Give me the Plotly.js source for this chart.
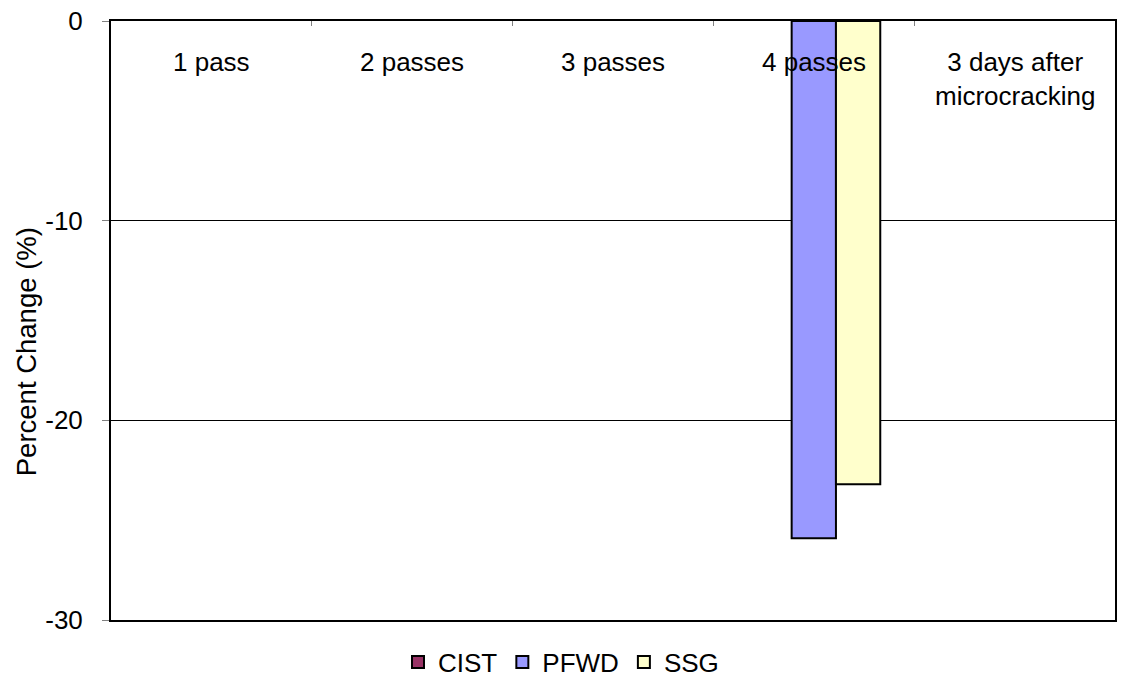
<!DOCTYPE html>
<html>
<head>
<meta charset="utf-8">
<script src="https://cdn.plot.ly/plotly-3.0.1.min.js"></script>
<style>
  html, body { margin: 0; padding: 0; background: #ffffff; }
  #chart { width: 1122px; height: 679px; }
</style>
</head>
<body>
<div id="chart"></div>
<script>
// Stages of the test section
const categories = ['1 pass', '2 passes', '3 passes', '4 passes', '3 days after<br>microcracking'];

// Percent change in stiffness per device (null = no reading)
const cistValues = [null, null, null, null, null];
const pfwdValues = [null, null, null, -25.9, null];
const ssgValues  = [null, null, null, -23.2, null];

const seriesNames  = ['CIST', 'PFWD', 'SSG'];
const seriesColors = ['#993366', '#9999FF', '#FFFFCC'];

const yTickVals = [0, -10, -20, -30];
const yTickText = ['0', '-10', '-20', '-30'];
const yTitle = 'Percent Change (%)';

const font = 'Arial, "Liberation Sans", sans-serif';

const seriesValues = [cistValues, pfwdValues, ssgValues];
const traces = seriesNames.map((name, i) => ({
  type: 'bar',
  name: name,
  x: categories,
  y: seriesValues[i],
  marker: { color: seriesColors[i], line: { color: '#000000', width: 2 } },
  hoverinfo: 'x+y+name'
}));

// Category labels sit just under the zero line, inside the plot
const labelAnnotations = categories.map(c => ({
  x: c, xref: 'x',
  y: 1, yref: 'paper',
  yanchor: 'top', xanchor: 'center',
  yshift: -24,
  text: c,
  showarrow: false,
  align: 'center',
  font: { family: font, size: 26, color: '#000000' }
}));

// Vertical value-axis title, centred on the chart area rather than the plot
const titleAnnotation = {
  x: 0, xref: 'paper', xanchor: 'center', xshift: -85,
  y: 0.447, yref: 'paper', yanchor: 'middle',
  text: yTitle,
  textangle: -90,
  showarrow: false,
  font: { family: font, size: 27.5, color: '#000000' }
};

const layout = {
  width: 1122,
  height: 679,
  margin: { l: 111, r: 7, t: 21, b: 59 },
  paper_bgcolor: '#ffffff',
  plot_bgcolor: '#ffffff',
  font: { family: font, size: 26, color: '#000000' },
  barmode: 'group',
  bargap: 0.338,
  bargroupgap: 0,
  showlegend: true,
  legend: {
    orientation: 'h',
    xref: 'container', yref: 'container',
    x: 0.5, xanchor: 'center',
    y: 0.025, yanchor: 'middle',
    font: { family: font, size: 26, color: '#000000' },
    itemwidth: 30,
    traceorder: 'normal'
  },
  xaxis: {
    type: 'category',
    side: 'top',
    showticklabels: false,
    ticks: 'inside',
    ticklen: 5,
    tickwidth: 1,
    tickcolor: '#808080',
    tickson: 'boundaries',
    showline: true,
    linecolor: '#000000',
    linewidth: 2,
    mirror: true,
    showgrid: false,
    zeroline: false,
    fixedrange: true
  },
  yaxis: {
    range: [-30, 0],
    tickvals: yTickVals,
    ticktext: yTickText,
    ticks: 'outside',
    ticklen: 7,
    tickwidth: 1,
    tickcolor: '#808080',
    ticklabelstandoff: 14,
    tickfont: { family: font, size: 26, color: '#000000' },
    showline: true,
    linecolor: '#000000',
    linewidth: 2,
    mirror: true,
    showgrid: true,
    gridcolor: '#000000',
    gridwidth: 1,
    zeroline: false,
    fixedrange: true
  },
  annotations: labelAnnotations.concat([titleAnnotation])
};

Plotly.newPlot('chart', traces, layout, { displayModeBar: false, staticPlot: true });
</script>
</body>
</html>
